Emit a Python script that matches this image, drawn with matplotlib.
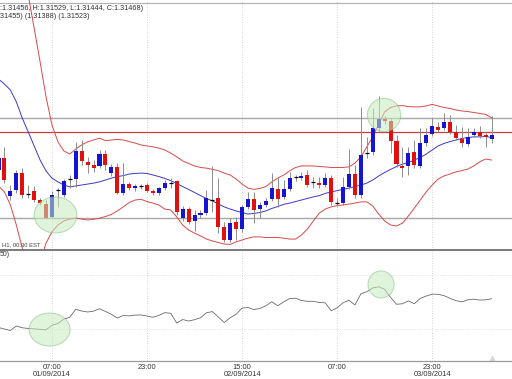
import numpy as np
import matplotlib
matplotlib.use('Agg')
import matplotlib.pyplot as plt
from matplotlib.patches import Ellipse

plt.rcParams['font.family'] = ['Liberation Sans', 'DejaVu Sans']

# ── data: hourly EURUSD candles (hour 0 = 01/09/2014 07:00) ──────────
hours = np.arange(-9, 75)

opens = [1.31356, 1.31394, 1.31273, 1.31292, 1.31346, 1.31279, 1.31289, 1.31260, 1.31247,
         1.31206, 1.31292, 1.31276, 1.31327, 1.31327, 1.31417, 1.31382, 1.31372, 1.31369,
         1.31407, 1.31346, 1.31366, 1.31282, 1.31311, 1.31298, 1.31305, 1.31308, 1.31289,
         1.31282, 1.31298, 1.31314, 1.31321, 1.31202, 1.31231, 1.31193, 1.31212, 1.31218,
         1.31260, 1.31266, 1.31174, 1.31132, 1.31190, 1.31167, 1.31238, 1.31263, 1.31231,
         1.31244, 1.31263, 1.31295, 1.31270, 1.31295, 1.31334, 1.31330, 1.31340, 1.31318,
         1.31314, 1.31308, 1.31330, 1.31250, 1.31250, 1.31302, 1.31343, 1.31276, 1.31410,
         1.31414, 1.31490, 1.31519, 1.31513, 1.31449, 1.31369, 1.31369, 1.31414, 1.31369,
         1.31442, 1.31471, 1.31494, 1.31490, 1.31510, 1.31478, 1.31455, 1.31439, 1.31468,
         1.31478, 1.31468, 1.31456]
highs = [1.31420, 1.31430, 1.31308, 1.31356, 1.31362, 1.31308, 1.31305, 1.31266, 1.31260,
         1.31289, 1.31298, 1.31327, 1.31340, 1.31446, 1.31452, 1.31398, 1.31388, 1.31420,
         1.31420, 1.31375, 1.31378, 1.31378, 1.31318, 1.31311, 1.31311, 1.31314, 1.31295,
         1.31302, 1.31324, 1.31330, 1.31324, 1.31241, 1.31238, 1.31228, 1.31228, 1.31292,
         1.31369, 1.31330, 1.31190, 1.31202, 1.31206, 1.31244, 1.31286, 1.31286, 1.31254,
         1.31266, 1.31346, 1.31330, 1.31324, 1.31350, 1.31340, 1.31350, 1.31356, 1.31334,
         1.31334, 1.31346, 1.31340, 1.31266, 1.31334, 1.31423, 1.31372, 1.31558, 1.31462,
         1.31554, 1.31593, 1.31529, 1.31522, 1.31468, 1.31430, 1.31430, 1.31452, 1.31490,
         1.31490, 1.31522, 1.31510, 1.31538, 1.31532, 1.31500, 1.31494, 1.31490, 1.31490,
         1.31497, 1.31474, 1.31529]
lows = [1.31340, 1.31314, 1.31260, 1.31282, 1.31266, 1.31266, 1.31254, 1.31244, 1.31199,
        1.31202, 1.31238, 1.31270, 1.31298, 1.31302, 1.31372, 1.31346, 1.31350, 1.31362,
        1.31356, 1.31337, 1.31279, 1.31276, 1.31292, 1.31289, 1.31295, 1.31286, 1.31276,
        1.31276, 1.31292, 1.31298, 1.31212, 1.31193, 1.31183, 1.31161, 1.31202, 1.31212,
        1.31222, 1.31154, 1.31126, 1.31126, 1.31132, 1.31158, 1.31231, 1.31186, 1.31202,
        1.31238, 1.31257, 1.31238, 1.31263, 1.31289, 1.31321, 1.31324, 1.31302, 1.31298,
        1.31298, 1.31302, 1.31244, 1.31241, 1.31244, 1.31295, 1.31266, 1.31266, 1.31394,
        1.31404, 1.31481, 1.31503, 1.31410, 1.31366, 1.31334, 1.31340, 1.31362, 1.31362,
        1.31433, 1.31465, 1.31478, 1.31484, 1.31471, 1.31452, 1.31430, 1.31433, 1.31462,
        1.31458, 1.31430, 1.31444]
closes = [1.31394, 1.31324, 1.31289, 1.31346, 1.31276, 1.31279, 1.31260, 1.31250, 1.31202,
          1.31276, 1.31292, 1.31321, 1.31327, 1.31417, 1.31385, 1.31372, 1.31362, 1.31407,
          1.31372, 1.31366, 1.31282, 1.31311, 1.31298, 1.31305, 1.31305, 1.31289, 1.31282,
          1.31298, 1.31314, 1.31314, 1.31222, 1.31231, 1.31190, 1.31212, 1.31218, 1.31266,
          1.31260, 1.31174, 1.31132, 1.31186, 1.31167, 1.31238, 1.31263, 1.31228, 1.31244,
          1.31257, 1.31298, 1.31263, 1.31295, 1.31330, 1.31334, 1.31337, 1.31308, 1.31318,
          1.31308, 1.31330, 1.31254, 1.31250, 1.31302, 1.31343, 1.31276, 1.31404, 1.31410,
          1.31490, 1.31519, 1.31513, 1.31449, 1.31375, 1.31362, 1.31410, 1.31372, 1.31442,
          1.31468, 1.31497, 1.31484, 1.31510, 1.31478, 1.31458, 1.31442, 1.31462, 1.31478,
          1.31465, 1.31462, 1.31468]

# Bollinger bands (upper / middle / lower)
bb_upper = [1.32284, 1.32220, 1.32140, 1.32066, 1.31996, 1.31916, 1.31810, 1.31702, 1.31590,
            1.31500, 1.31446, 1.31417, 1.31407, 1.31423, 1.31436, 1.31446, 1.31452, 1.31458,
            1.31450, 1.31452, 1.31454, 1.31452, 1.31447, 1.31442, 1.31436, 1.31433, 1.31430,
            1.31426, 1.31420, 1.31410, 1.31398, 1.31385, 1.31377, 1.31369, 1.31364, 1.31362,
            1.31358, 1.31354, 1.31346, 1.31340, 1.31327, 1.31311, 1.31298, 1.31294, 1.31297,
            1.31303, 1.31318, 1.31330, 1.31340, 1.31353, 1.31364, 1.31369, 1.31369, 1.31369,
            1.31367, 1.31366, 1.31364, 1.31364, 1.31364, 1.31366, 1.31378, 1.31398, 1.31430,
            1.31462, 1.31503, 1.31542, 1.31556, 1.31561, 1.31562, 1.31559, 1.31558, 1.31558,
            1.31561, 1.31566, 1.31561, 1.31556, 1.31553, 1.31548, 1.31545, 1.31543, 1.31540,
            1.31537, 1.31534, 1.31523]
bb_mid = [1.31647, 1.31631, 1.31612, 1.31574, 1.31522, 1.31478, 1.31433, 1.31388, 1.31353,
          1.31330, 1.31318, 1.31308, 1.31302, 1.31305, 1.31308, 1.31311, 1.31314, 1.31318,
          1.31324, 1.31330, 1.31335, 1.31338, 1.31343, 1.31345, 1.31346, 1.31345, 1.31340,
          1.31335, 1.31329, 1.31322, 1.31313, 1.31303, 1.31294, 1.31284, 1.31274, 1.31265,
          1.31257, 1.31247, 1.31238, 1.31231, 1.31225, 1.31220, 1.31215, 1.31217, 1.31220,
          1.31225, 1.31233, 1.31239, 1.31246, 1.31250, 1.31255, 1.31260, 1.31265, 1.31270,
          1.31274, 1.31281, 1.31286, 1.31290, 1.31294, 1.31298, 1.31303, 1.31308, 1.31314,
          1.31324, 1.31337, 1.31348, 1.31358, 1.31367, 1.31375, 1.31380, 1.31388, 1.31396,
          1.31407, 1.31420, 1.31433, 1.31441, 1.31447, 1.31452, 1.31457, 1.31460, 1.31462,
          1.31462, 1.31463, 1.31460]
bb_lower = [1.31305, 1.31286, 1.31244, 1.31180, 1.31106, 1.31020, 1.30988, 1.31062, 1.31122,
            1.31158, 1.31180, 1.31193, 1.31199, 1.31202, 1.31199, 1.31196, 1.31198, 1.31202,
            1.31207, 1.31214, 1.31225, 1.31238, 1.31252, 1.31260, 1.31262, 1.31255, 1.31250,
            1.31244, 1.31231, 1.31228, 1.31206, 1.31180, 1.31164, 1.31154, 1.31145, 1.31135,
            1.31129, 1.31124, 1.31119, 1.31118, 1.31126, 1.31132, 1.31138, 1.31142, 1.31142,
            1.31140, 1.31140, 1.31140, 1.31138, 1.31135, 1.31135, 1.31148, 1.31167, 1.31193,
            1.31218, 1.31231, 1.31238, 1.31242, 1.31244, 1.31247, 1.31250, 1.31254, 1.31254,
            1.31241, 1.31215, 1.31193, 1.31180, 1.31177, 1.31186, 1.31209, 1.31234, 1.31260,
            1.31286, 1.31308, 1.31327, 1.31337, 1.31343, 1.31350, 1.31354, 1.31359, 1.31369,
            1.31382, 1.31391, 1.31388]

# oscillator in the lower pane
osc = [31.1, 30.0, 28.9, 32.2, 30.9, 30.4, 30.1, 29.8, 29.4, 32.7, 34.1, 37.4, 38.7, 44.6,
       43.3, 42.6, 43.2, 45.0, 43.0, 40.9, 38.1, 40.0, 39.7, 40.3, 40.4, 39.6, 38.7, 40.1,
       42.1, 41.6, 34.4, 37.0, 35.9, 36.9, 38.3, 42.0, 42.9, 38.9, 34.8, 38.3, 40.9, 45.5,
       45.9, 44.4, 45.2, 47.2, 50.2, 47.2, 50.1, 52.5, 52.8, 51.1, 50.5, 50.5, 49.6, 49.4,
       43.5, 45.7, 49.4, 51.3, 47.8, 56.0, 57.6, 60.4, 61.3, 59.3, 53.4, 48.3, 48.7, 50.8,
       48.7, 52.7, 54.4, 55.8, 55.7, 54.7, 52.7, 51.0, 50.1, 51.6, 52.1, 51.4, 51.6, 52.4]

# horizontal levels drawn on the price pane
level_gray = [1.31522, 1.31202]
level_red = [1.31478]
header_line = 1.31890

tick_hours = [0, 16, 32, 48, 64]
tick_labels = ['07:00\n01/09/2014', '23:00', '15:00\n02/09/2014', '07:00',
               '23:00\n03/09/2014']

# highlight circles: (hour, value, width in hours, height in value units)
price_circles = [(0.6, 1.31212, 7.2, 0.00115), (55.9, 1.31532, 5.6, 0.00106)]
osc_circles = [(-0.4, 29.6, 6.9, 24.4), (55.4, 63.0, 4.4, 20.0)]

BLUE = '#1414d2'
RED = '#e01010'
BAND = '#d84a4a'
MID = '#3a3ac8'
WICK = '#8c8c8c'

# ── figure ───────────────────────────────────────────────────
fig = plt.figure(figsize=(5.12, 3.79), dpi=100)
ax = fig.add_axes([0, 129 / 379, 1, 250 / 379])
ax2 = fig.add_axes([0, 18 / 379, 1, 111 / 379])

xlim = (-8.75, 77.44)
for a in (ax, ax2):
    a.set_xlim(*xlim)
    for s in a.spines.values():
        s.set_visible(False)
    for t in tick_hours:
        a.axvline(t, color='#c8c8c8', lw=0.6, ls=(0, (1, 2)), zorder=0)

ax.set_ylim(1.31100, 1.31900)
ax2.set_ylim(6.3, 88.5)

o = np.array(opens); h = np.array(highs); l = np.array(lows); c = np.array(closes)

# bands
ax.plot(hours, bb_upper, color=BAND, lw=0.7, zorder=2)
ax.plot(hours, bb_lower, color=BAND, lw=0.7, zorder=2)
ax.plot(hours, bb_mid, color=MID, lw=0.7, zorder=2)

for lv in level_gray:
    ax.axhline(lv, color='#a8a8a8', lw=1.0, zorder=1)
for lv in level_red:
    ax.axhline(lv, color='#d03a3a', lw=0.9, zorder=1)
ax.axhline(header_line, color='#b0b0b0', lw=0.8, zorder=1)

# candles
ax.vlines(hours, l, h, color=WICK, lw=0.7, zorder=3)
up = c > o
dn = c < o
flat = c == o
ax.bar(hours[up], (c - o)[up], bottom=o[up], width=0.68, color=BLUE, zorder=4)
ax.bar(hours[dn], (c - o)[dn], bottom=o[dn], width=0.68, color=RED, zorder=4)
ax.hlines(c[flat], hours[flat] - 0.34, hours[flat] + 0.34, color='black', lw=0.9, zorder=4)

for (cx, cy, w, hh) in price_circles:
    ax.add_patch(Ellipse((cx, cy), w, hh, facecolor='#c8ecc0', edgecolor='#88c488',
                         alpha=0.55, lw=0.8, zorder=5))
for (cx, cy, w, hh) in osc_circles:
    ax2.add_patch(Ellipse((cx, cy), w, hh, facecolor='#c8ecc0', edgecolor='#88c488',
                          alpha=0.55, lw=0.8, zorder=5))

ax.set_xticks([]); ax.set_yticks([])

# separator line and bottom line
ax2.axhline(88.5, color='#7a7a7a', lw=1.4, zorder=6, clip_on=False)
ax2.axhline(6.3, color='#9a9a9a', lw=0.9, zorder=6, clip_on=False)
for g in (30, 70):
    ax2.axhline(g, color='#d0d0d0', lw=0.5, ls=(0, (1, 2)), zorder=0)

ax2.plot(hours, osc, color='#6a6a6a', lw=0.6, zorder=3)
ax2.plot([hours[-1]], [7.5], marker='^', ms=5, color='#d8d8d8', zorder=4)

ax2.set_yticks([])
ax2.set_xticks(tick_hours)
ax2.set_xticklabels(tick_labels, fontsize=5.4, color='#333333', linespacing=1.1)
ax2.tick_params(axis='x', length=0, pad=2.0)

# header / label texts
fig.text(0.0, 1 - 8 / 379, ':1.31456, H:1.31529, L:1.31444, C:1.31468)', fontsize=5.2,
         color='#303030', ha='left', va='center')
fig.text(0.0, 1 - 16 / 379, '31455) (1.31388) (1.31523)', fontsize=5.2,
         color='#303030', ha='left', va='center')
fig.text(2 / 512, 1 - 245 / 379, 'H1, 00:30 EST', fontsize=4.2,
         color='#404040', ha='left', va='center')
fig.text(0.0, 1 - 254 / 379, '50)', fontsize=5.0, color='#303030', ha='left', va='center')

fig.savefig('out.png', dpi=100)
